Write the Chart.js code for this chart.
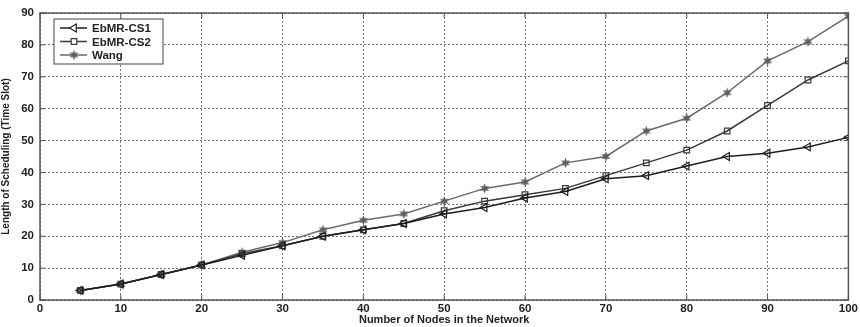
<!DOCTYPE html>
<html>
<head>
  <meta charset="utf-8" />
  <title>Length of Scheduling</title>
  <style>
    body { margin: 0; background: #fff; }
  </style>
</head>
<body>
  <canvas id="stage" width="860" height="327"></canvas>

  <script src="https://cdn.jsdelivr.net/npm/chart.js@4/dist/chart.umd.min.js"></script>
  <script>
    // values
    const nodes = [5, 10, 15, 20, 25, 30, 35, 40, 45, 50, 55, 60, 65, 70, 75, 80, 85, 90, 95, 100];
    const ebmrCs1 = [3, 5, 8, 11, 14, 17, 20, 22, 24, 27, 29, 32, 34, 38, 39, 42, 45, 46, 48, 51];
    const ebmrCs2 = [3, 5, 8, 11, 14.5, 17, 20, 22, 24, 28, 31, 33, 35, 39, 43, 47, 53, 61, 69, 75];
    const wang = [3, 5, 8, 11, 15, 18, 22, 25, 27, 31, 35, 37, 43, 45, 53, 57, 65, 75, 81, 89];
    const seriesNames = ['EbMR-CS1', 'EbMR-CS2', 'Wang'];

    const FONT = '"Liberation Sans", Arial, sans-serif';

    // six point star marker for Wang
    function starMarker(color) {
      const c = document.createElement('canvas');
      c.width = 11; c.height = 11;
      const g = c.getContext('2d');
      g.fillStyle = color;
      g.beginPath();
      for (let i = 0; i < 12; i++) {
        const r = i % 2 === 0 ? 5.2 : 2.4;
        const a = Math.PI / 6 * i - Math.PI / 2;
        const x = 5.5 + r * Math.cos(a), y = 5.5 + r * Math.sin(a);
        if (i === 0) g.moveTo(x, y); else g.lineTo(x, y);
      }
      g.closePath();
      g.fill();
      return c;
    }

    const toXY = vals => vals.map((v, i) => ({ x: nodes[i], y: v }));

    const frame = {
      id: 'frame',
      afterDatasetsDraw(chart) {
        const { ctx, chartArea: a, scales } = chart;
        ctx.save();
        ctx.strokeStyle = '#555';
        ctx.lineWidth = 1.5;
        ctx.strokeRect(a.left, a.top, a.right - a.left, a.bottom - a.top);
        // inward tick marks
        ctx.lineWidth = 1;
        scales.x.ticks.forEach(t => {
          const px = scales.x.getPixelForValue(t.value);
          ctx.beginPath();
          ctx.moveTo(px, a.bottom); ctx.lineTo(px, a.bottom - 5);
          ctx.moveTo(px, a.top); ctx.lineTo(px, a.top + 5);
          ctx.stroke();
        });
        scales.y.ticks.forEach(t => {
          const py = scales.y.getPixelForValue(t.value);
          ctx.beginPath();
          ctx.moveTo(a.left, py); ctx.lineTo(a.left + 5, py);
          ctx.moveTo(a.right, py); ctx.lineTo(a.right - 5, py);
          ctx.stroke();
        });

        // legend box
        const bx = a.left + 14, by = a.top + 6, bw = 109, bh = 45;
        ctx.fillStyle = '#fff';
        ctx.fillRect(bx, by, bw, bh);
        ctx.strokeStyle = '#444';
        ctx.lineWidth = 1;
        ctx.strokeRect(bx, by, bw, bh);
        ctx.font = 'bold 11.5px ' + FONT;
        ctx.textBaseline = 'middle';
        chart.data.datasets.forEach((ds, i) => {
          const y = by + 9 + i * 13.5;
          ctx.strokeStyle = ds.borderColor;
          ctx.lineWidth = 1.5;
          ctx.beginPath();
          ctx.moveTo(bx + 6, y); ctx.lineTo(bx + 33, y);
          ctx.stroke();
          ctx.fillStyle = '#fff';
          ctx.lineWidth = 1.2;
          Chart.helpers.drawPoint(ctx, {
            pointStyle: ds.pointStyle,
            rotation: ds.pointRotation || 0,
            radius: ds.pointRadius,
            borderWidth: 1.2
          }, bx + 20, y);
          ctx.fillStyle = '#222';
          ctx.fillText(seriesNames[i], bx + 38, y + 1);
        });
        ctx.restore();
      }
    };

    new Chart(document.getElementById('stage'), {
      type: 'line',
      data: {
        datasets: [{
          label: seriesNames[0],
          data: toXY(ebmrCs1),
          borderColor: '#1e1e1e',
          backgroundColor: '#1e1e1e',
          pointStyle: 'triangle',
          pointRotation: -90,
          pointRadius: 4.5,
          pointBackgroundColor: 'rgba(255,255,255,0)',
          pointBorderColor: '#1e1e1e',
          pointBorderWidth: 1.2,
          borderWidth: 1.5
        }, {
          label: seriesNames[1],
          data: toXY(ebmrCs2),
          borderColor: '#3a3a3a',
          backgroundColor: '#3a3a3a',
          pointStyle: 'rect',
          pointRadius: 4,
          pointBackgroundColor: 'rgba(255,255,255,0)',
          pointBorderColor: '#3a3a3a',
          pointBorderWidth: 1.2,
          borderWidth: 1.5
        }, {
          label: seriesNames[2],
          data: toXY(wang),
          borderColor: '#6a6a6a',
          backgroundColor: '#6a6a6a',
          pointStyle: starMarker('#5e5e5e'),
          pointRadius: 5,
          borderWidth: 1.5
        }]
      },
      options: {
        responsive: false,
        animation: false,
        layout: { padding: { top: 13, right: 11, left: 0, bottom: 0 } },
        plugins: {
          legend: { display: false },
          tooltip: { enabled: false }
        },
        scales: {
          x: {
            type: 'linear',
            min: 0, max: 100,
            afterFit: s => { s.height = 27; },
            ticks: {
              stepSize: 10,
              padding: 2,
              color: '#222',
              font: { family: FONT, size: 11.5, weight: 'bold' }
            },
            grid: { color: '#777', lineWidth: 1, drawTicks: false },
            border: { display: false, dash: [2, 2] },
            title: {
              display: true,
              text: 'Number of Nodes in the Network',
              color: '#222',
              padding: 0,
              font: { family: FONT, size: 11, weight: 'bold' }
            }
          },
          y: {
            min: 0, max: 90,
            afterFit: s => { s.width = 40; },
            ticks: {
              stepSize: 10,
              padding: 6,
              color: '#222',
              font: { family: FONT, size: 11.5, weight: 'bold' }
            },
            grid: { color: '#777', lineWidth: 1, drawTicks: false },
            border: { display: false, dash: [2, 2] },
            title: {
              display: true,
              text: 'Length of Scheduling (Time Slot)',
              color: '#222',
              padding: 0,
              font: { family: FONT, size: 10, weight: 'bold' }
            }
          }
        }
      },
      plugins: [frame]
    });
  </script>
</body>
</html>
